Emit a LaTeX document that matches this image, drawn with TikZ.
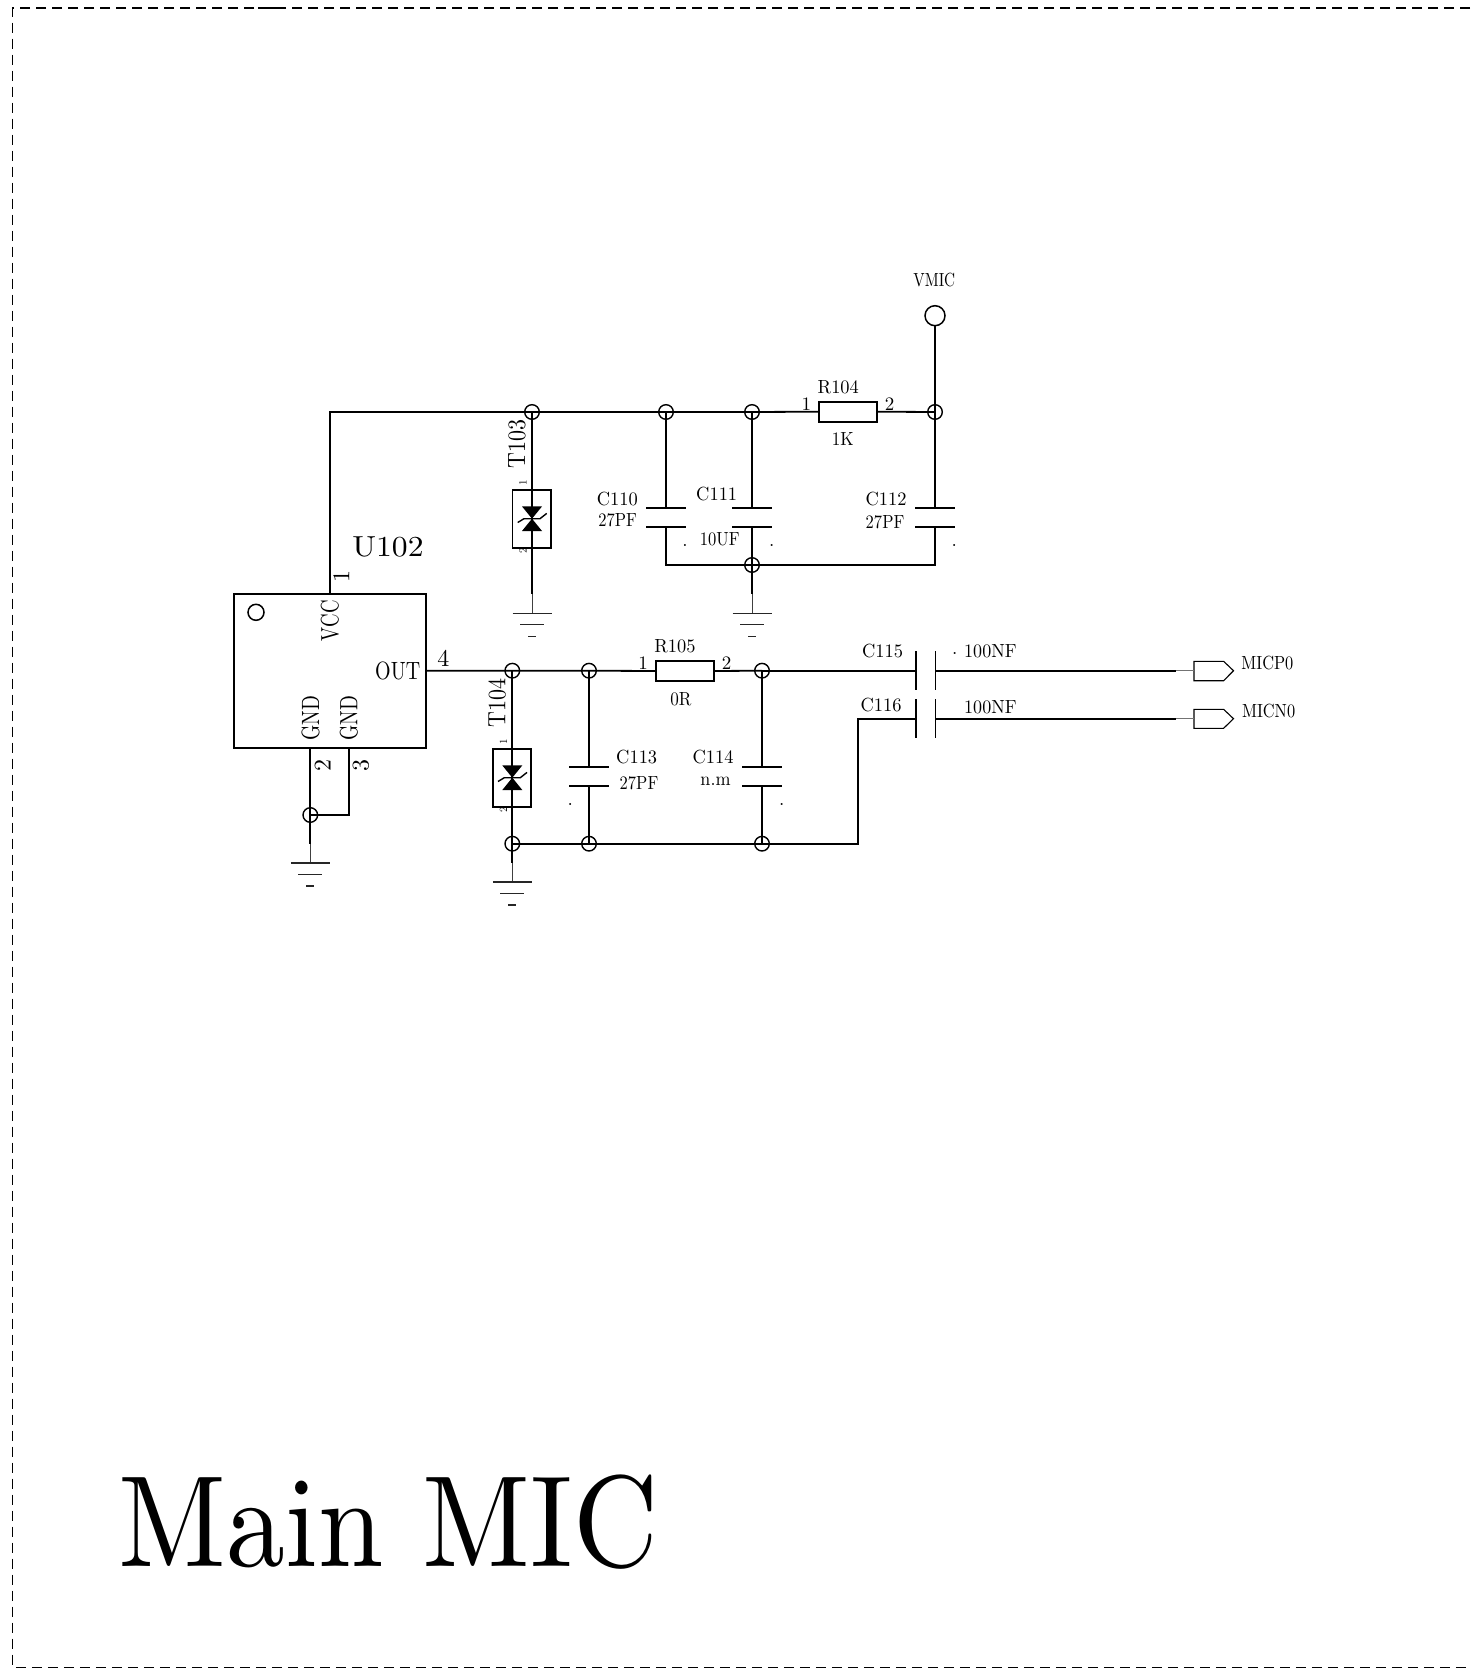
\documentclass[tikz,border=0pt]{standalone}
\usepackage{graphicx}
\usetikzlibrary{calc}
\tikzset{
  wire/.style={line width=1.8pt,line join=miter},
  thinw/.style={line width=1pt,black!75},
  comp/.style={draw,line width=1.8pt,minimum width=0pt,inner sep=0pt},
  plate/.style={line width=1.8pt},
  gplate/.style={line width=1.1pt,black!85},
  junc/.style={circle,draw,line width=1.4pt,minimum size=14.6pt,inner sep=0pt},
  hollow/.style={circle,draw,line width=1.5pt,inner sep=0pt},
  lb/.style={inner sep=0pt,anchor=base,font=\fontsize{10}{10}\selectfont},
  rot/.style={rotate=90},
  border/.style={line width=1.5pt,dash pattern=on 10pt off 6pt},
  port/.style={line width=1.1pt,line join=miter}
}
% text at 10pt design size, enlarged: size, horizontal factor, text
\newcommand{\tx}[3]{\pgfmathsetmacro\sxv{#1*#2/10}\pgfmathsetmacro\syv{#1/10}\scalebox{\sxv}[\syv]{#3}}
% vertical capacitor: name, x, top plate y, bottom plate y
\newcommand{\capv}[4]{%
  \coordinate (#1p) at (#2,#3);
  \coordinate (#1q) at (#2,#4);
  \draw[plate] ($(#1p)+(-19.7,0)$) -- ($(#1p)+(19.7,0)$);
  \draw[plate] ($(#1q)+(-19.7,0)$) -- ($(#1q)+(19.7,0)$);
}
% horizontal capacitor: name, x1, x2, y
\newcommand{\caph}[4]{%
  \coordinate (#1p) at (#2,#4);
  \coordinate (#1q) at (#3,#4);
  \draw[plate,line width=1.4pt] ($(#1p)+(0,-19.3)$) -- ($(#1p)+(0,19.3)$);
  \draw[plate,line width=1.4pt] ($(#1q)+(0,-19.3)$) -- ($(#1q)+(0,19.3)$);
}
% ground: name, x, y of first plate
\newcommand{\gndsym}[3]{%
  \coordinate (#1) at (#2,#3);
  \coordinate (#1a) at (#2,#3-19.5);
  \draw[thinw] (#1a) -- (#1);
  \draw[gplate] ($(#1)+(-19.5,0)$) -- ($(#1)+(19.5,0)$);
  \draw[gplate] ($(#1)+(-12,11.4)$) -- ($(#1)+(12,11.4)$);
  \draw[gplate] ($(#1)+(-4,23)$) -- ($(#1)+(4,23)$);
}
% TVS body: name, x, top of box, bottom of box
\newcommand{\tvs}[4]{%
  \coordinate (#1c) at (#2,{(#3+#4)/2});
  \draw[comp] (#2-19.6,#3) rectangle (#2+18.8,#4);
  \fill ($(#1c)+(-10,-12.3)$) -- ($(#1c)+(10,-12.3)$) -- (#1c) -- cycle;
  \fill ($(#1c)+(-10,12.3)$) -- ($(#1c)+(10,12.3)$) -- (#1c) -- cycle;
  \draw[line width=1.4pt] ($(#1c)+(-14.3,3.8)$) -- ($(#1c)+(-8,0)$) -- ($(#1c)+(8,0)$) -- ($(#1c)+(14.7,-5.3)$);
}
\begin{document}
\begin{tikzpicture}[x=1pt,y=-1pt]
\useasboundingbox (0,0) rectangle (1470,1669);
% page border
\coordinate (bTR) at (1470,8);
\coordinate (bTL) at (12.7,8);
\coordinate (bBL) at (12.7,1667.5);
\coordinate (bBR) at (1470,1667.5);
\draw[border] (bTR) -- (bTL) -- (bBL) -- (bBR);
\coordinate (tickA) at (258,8);
\coordinate (tickB) at (284,8);
\draw[line width=1.5pt] (tickA) -- (tickB);

% junctions
\node[junc] (jT) at (532,412) {};
\node[junc] (jA) at (666,412) {};
\node[junc] (jB) at (752,412) {};
\node[junc] (jV) at (935,412) {};
\node[junc] (jG) at (752,565) {};
\node[junc] (jU) at (310.3,815) {};
\node[junc] (jO) at (512.3,670.7) {};
\node[junc] (jC) at (589,670.7) {};
\node[junc] (jD) at (762,670.7) {};
\node[junc] (jP) at (512.3,843.7) {};
\node[junc] (jQ) at (589,843.7) {};
\node[junc] (jR) at (762,843.7) {};

% VMIC terminal
\node[hollow,minimum size=20pt] (vmic) at (935,315.7) {};
\node[lb] (vmicT) at (934.3,287) {\tx{19}{0.8}{VMIC}};

% U102
\node[comp,minimum width=192.3pt,minimum height=154pt] (u) at (329.85,670.7) {};
\node[hollow,minimum size=16pt] (umark) at (256,612.3) {};
\node[lb] (uT) at (388,556.7) {\tx{29}{1.09}{U102}};
\coordinate (uVcc) at (330,593.7);
\coordinate (uOut) at (426,670.7);
\coordinate (uG1) at (310.3,747.7);
\coordinate (uG2) at (349,747.7);
\coordinate (cornerTL) at (330,412);
\coordinate (cornerG) at (349,815);
\node[lb,rot] (pVcc) at (338.3,620.7) {\tx{25}{0.75}{VCC}};
\node[lb] (pOut) at (397.7,679) {\tx{25}{0.8}{OUT}};
\node[lb,rot] (pG1) at (319,718.3) {\tx{25}{0.78}{GND}};
\node[lb,rot] (pG2) at (357.3,718.3) {\tx{25}{0.78}{GND}};
\node[lb,rot] (n1) at (349.3,576) {\tx{24}{1}{1}};
\node[lb] (n4) at (443.3,666.7) {\tx{24}{1}{4}};
\node[lb,rot] (n2) at (330.7,765) {\tx{24}{1}{2}};
\node[lb,rot] (n3) at (368.7,765) {\tx{24}{1}{3}};

% top rail
\draw[wire] (uVcc) -- (cornerTL) -- (jT.center) -- (jA.center) -- (jB.center);
\node[comp,minimum width=58pt,minimum height=20pt] (r104) at (848,411.7) {};
\draw[wire] (jB.center) -- (r104.west);
\draw[wire] (r104.east) -- (jV.center);
\draw[wire] (vmic.south) -- (jV.center);
\node[lb] (r104T) at (838.3,393.3) {\tx{19}{0.97}{R104}};
\node[lb] (r104V) at (842.7,445) {\tx{19}{0.9}{1K}};
\node[lb] (r104a) at (806.3,410) {\tx{19}{1}{1}};
\node[lb] (r104b) at (889.7,410) {\tx{19}{1}{2}};

% T103
\tvs{ta}{532}{489.7}{547.7}
\gndsym{ga}{532}{613.3}
\draw[wire] (jT.center) -- (tac);
\draw[wire] (tac) -- (gaa);
\node[lb,rot] (t103T) at (525,444) {\tx{25}{0.88}{T103}};
\node[lb,rot] (t103a) at (526.7,483) {\tx{11}{1}{1}};
\node[lb,rot] (t103b) at (526.7,551) {\tx{11}{1}{2}};

% C110, C111, C112
\capv{ca}{666}{507.7}{526.7}
\capv{cb}{752}{507.7}{526.7}
\capv{cc}{935}{507.7}{526.7}
\coordinate (railL) at (666,565);
\coordinate (railR) at (935,565);
\draw[wire] (jA.center) -- (cap);
\draw[wire] (jB.center) -- (cbp);
\draw[wire] (jV.center) -- (ccp);
\draw[wire] (caq) -- (railL) -- (jG.center) -- (railR) -- (ccq);
\draw[wire] (cbq) -- (jG.center);
\node[lb] (c110T) at (617.3,505) {\tx{19}{0.97}{C110}};
\node[lb] (c110V) at (617.7,526) {\tx{19}{0.87}{27PF}};
\node[lb] (c110D) at (685,546.7) {\tx{19}{1}{.}};
\node[lb] (c111T) at (716.7,500) {\tx{19}{0.97}{C111}};
\node[lb] (c111V) at (719.7,545) {\tx{19}{0.87}{10UF}};
\node[lb] (c111D) at (771.7,546.7) {\tx{19}{1}{.}};
\node[lb] (c112T) at (886,505) {\tx{19}{0.97}{C112}};
\node[lb] (c112V) at (885,528) {\tx{19}{0.87}{27PF}};
\node[lb] (c112D) at (954.3,546.7) {\tx{19}{1}{.}};
\gndsym{gb}{752}{613.3}
\draw[wire] (jG.center) -- (gba);

% U102 ground
\gndsym{gu}{310.3}{863}
\draw[wire] (uG1) -- (jU.center) -- (gua);
\draw[wire] (uG2) -- (cornerG) -- (jU.center);

% OUT rail
\node[comp,minimum width=58pt,minimum height=20pt] (r105) at (685,671) {};
\draw[wire] (uOut) -- (jO.center) -- (jC.center) -- (r105.west);
\draw[wire] (r105.east) -- (jD.center);
\node[lb] (r105T) at (675,652.3) {\tx{19}{0.97}{R105}};
\node[lb] (r105V) at (681,705) {\tx{19}{0.9}{0R}};
\node[lb] (r105a) at (643,669) {\tx{19}{1}{1}};
\node[lb] (r105b) at (726.6,669.5) {\tx{19}{1}{2}};

% T104
\tvs{tb}{512.3}{748.7}{806.7}
\gndsym{gc}{512.3}{882}
\draw[wire] (jO.center) -- (tbc);
\draw[wire] (tbc) -- (jP.center) -- (gca);
\node[lb,rot] (t104T) at (505.3,703.3) {\tx{25}{0.88}{T104}};
\node[lb,rot] (t104a) at (507,742) {\tx{11}{1}{1}};
\node[lb,rot] (t104b) at (507,809.3) {\tx{11}{1}{2}};

% C113, C114
\capv{cd}{589}{766.7}{785.7}
\capv{ce}{762}{766.7}{785.7}
\draw[wire] (jC.center) -- (cdp);
\draw[wire] (cdq) -- (jQ.center);
\draw[wire] (jD.center) -- (cep);
\draw[wire] (ceq) -- (jR.center);
\coordinate (botR) at (858.3,843.7);
\coordinate (botU) at (858.3,718.7);
\node[lb] (c113T) at (636.7,763.3) {\tx{19}{0.97}{C113}};
\node[lb] (c113V) at (639,789) {\tx{19}{0.87}{27PF}};
\node[lb] (c113D) at (570.3,805.7) {\tx{19}{1}{.}};
\node[lb] (c114T) at (713,763.3) {\tx{19}{0.97}{C114}};
\node[lb] (c114V) at (715.5,785) {\tx{19}{0.95}{n.m}};
\node[lb] (c114D) at (781.7,805.7) {\tx{19}{1}{.}};

% C115, C116
\caph{cf}{915.9}{935.3}{670.7}
\caph{cg}{915.9}{935.3}{718.7}
\draw[wire] (jP.center) -- (jQ.center) -- (jR.center) -- (botR) -- (botU) -- (cgp);
\draw[wire] (jD.center) -- (cfp);
\node[lb] (c115T) at (882.5,657.3) {\tx{19}{0.97}{C115}};
\node[lb] (c116T) at (881,711.7) {\tx{19}{0.97}{C116}};
\node[lb] (c115D) at (954.8,654) {\tx{19}{1}{.}};
\node[lb] (c115V) at (990.4,657.7) {\tx{19}{0.95}{100NF}};
\node[lb] (c116V) at (990.4,713.3) {\tx{19}{0.95}{100NF}};

% ports
\coordinate (pA0) at (1194,670.7);
\coordinate (pB0) at (1194,718.7);
\coordinate (pAe) at (1176,670.7);
\coordinate (pBe) at (1176,718.7);
\draw[port] (1194,661.3) -- (1223.6,661.3) -- (1233.5,670.7) -- (1223.6,680.7) -- (1194,680.7) -- cycle;
\draw[port] (1194,709.3) -- (1223.6,709.3) -- (1233.5,718.7) -- (1223.6,728.3) -- (1194,728.3) -- cycle;
\draw[wire] (cfq) -- (pAe);
\draw[wire] (cgq) -- (pBe);
\draw[line width=1.4pt,black!55] (pAe) -- (pA0);
\draw[line width=1.4pt,black!55] (pBe) -- (pB0);
\node[lb] (mp) at (1267.4,669.3) {\tx{19}{0.86}{MICP0}};
\node[lb] (mn) at (1268.6,717) {\tx{19}{0.86}{MICN0}};

% title
\node[lb] (title) at (388.5,1566.7) {\tx{130}{0.905}{Main MIC}};
\end{tikzpicture}
\end{document}
